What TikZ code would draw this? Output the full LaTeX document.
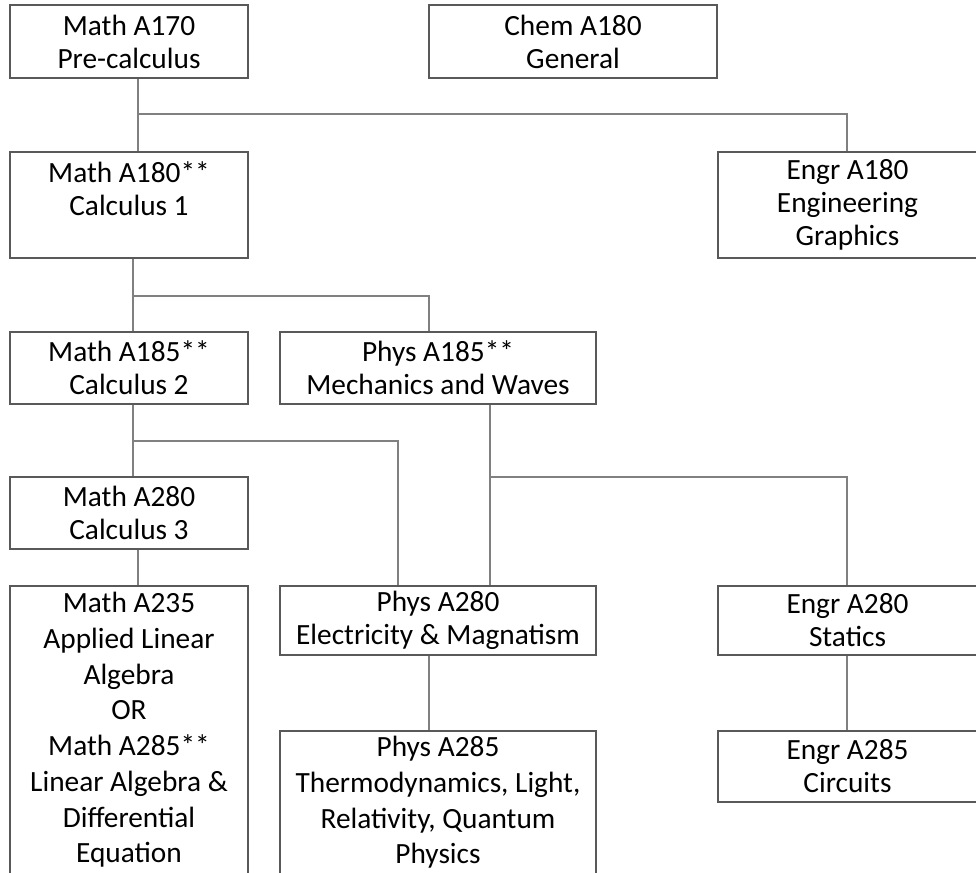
\documentclass[tikz,border=0pt]{standalone}
\usepackage{fontspec}
\setmainfont{Carlito}
\begin{document}
\begin{tikzpicture}[x=0.75pt,y=-0.75pt,
  box/.style={draw=black!65, line width=1.1pt, align=center, inner sep=1pt,
    font={\fontsize{22pt}{24.75pt}\selectfont}},
  tallbox/.style={box, font={\fontsize{22pt}{26.8pt}\selectfont}},
  bx/.style n args={4}{minimum width={(#3-#1)*0.75pt}, minimum height={(#4-#2)*0.75pt},
    at={({(#1+#3)/2},{(#2+#4)/2})}},
  conn/.style={draw=black!50, line width=1.1pt}]
\useasboundingbox (0,0) rectangle (976,873);

\node[box, bx={10}{5}{248}{78}] (m170) {Math A170\\Pre-calculus};
\node[box, bx={429}{5}{717}{78}] (c180) {Chem A180\\General};
\node[box, bx={10}{152}{248}{258}] (m180) {Math A180**\\Calculus 1\\\mbox{}};
\node[box, bx={718}{152}{977}{258}] (e180) {Engr A180\\Engineering\\Graphics};
\node[box, bx={10}{332}{248}{404}] (m185) {Math A185**\\Calculus 2};
\node[box, bx={280}{332}{596}{404}] (p185) {Phys A185**\\Mechanics and Waves};
\node[box, bx={10}{477}{248}{549}] (m280) {Math A280\\Calculus 3};
\node[tallbox, bx={10}{586}{248}{874}] (m235) {Math A235\\Applied Linear\\Algebra\\OR\\Math A285**\\Linear Algebra \&\\Differential\\Equation};
\node[box, bx={280}{586}{596}{655}] (p280) {Phys A280\\Electricity \& Magnatism};
\node[box, bx={718}{586}{977}{655}] (e280) {Engr A280\\Statics};
\node[tallbox, bx={280}{731}{596}{874}] (p285) {Phys A285\\Thermodynamics, Light,\\Relativity, Quantum\\Physics};
\node[box, bx={718}{731}{977}{802}] (e285) {Engr A285\\Circuits};

\coordinate (j1) at (138,114);
\coordinate (j2) at (133,296);
\coordinate (j2b) at (429,296);
\coordinate (j3) at (133,441);
\coordinate (j3b) at (398,441);
\coordinate (j4) at (490,477);
\coordinate (je) at (847,0);

\draw[conn] (m170.south -| j1) -- (j1) -- (j1 -| je) -- (e180.north -| je);
\draw[conn] (j1) -- (j1 |- m180.north);
\draw[conn] (m180.south -| j2) -- (j2) -- (j2b) -- (j2b |- p185.north);
\draw[conn] (j2) -- (j2 |- m185.north);
\draw[conn] (m185.south -| j3) -- (j3) -- (j3b) -- (j3b |- p280.north);
\draw[conn] (j3) -- (j3 |- m280.north);
\draw[conn] (p185.south -| j4) -- (j4) -- (j4 -| je) -- (e280.north -| je);
\draw[conn] (j4) -- (j4 |- p280.north);
\draw[conn] (m280.south -| j1) -- (m235.north -| j1);
\draw[conn] (p280.south -| j2b) -- (p285.north -| j2b);
\draw[conn] (e280.south -| je) -- (e285.north -| je);
\end{tikzpicture}
\end{document}
